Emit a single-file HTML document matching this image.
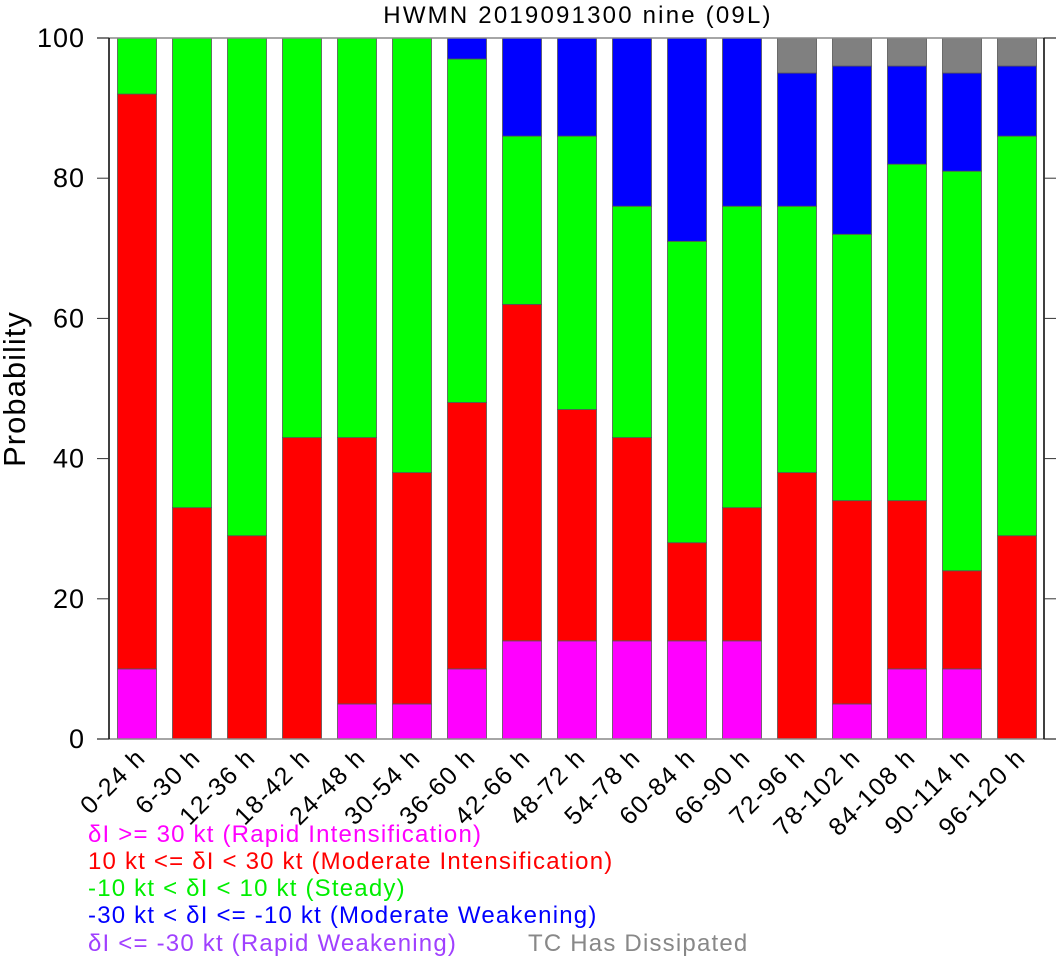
<!DOCTYPE html>
<html><head><meta charset="utf-8"><style>
body{margin:0;background:#fff;}
svg text{font-family:"Liberation Sans",sans-serif;}
</style></head><body>
<svg id="chart" width="1057" height="960" xmlns="http://www.w3.org/2000/svg">
<text x="578" y="23" font-size="24" letter-spacing="2.2" text-anchor="middle">HWMN 2019091300 nine (09L)</text>
<text transform="translate(25,389) rotate(-90)" font-size="31" letter-spacing="1" text-anchor="middle">Probability</text>
<g id="bars"></g>
<g id="axes"></g>
<g font-size="24" letter-spacing="1.2">
<text x="88" y="842" fill="#ff00ff">δI &gt;= 30 kt (Rapid Intensification)</text>
<text x="88" y="869" fill="#ff0000">10 kt &lt;= δI &lt; 30 kt (Moderate Intensification)</text>
<text x="88" y="896" fill="#00ee00">-10 kt &lt; δI &lt; 10 kt (Steady)</text>
<text x="88" y="923" fill="#0000ff">-30 kt &lt; δI &lt;= -10 kt (Moderate Weakening)</text>
<text x="88" y="951" fill="#a040ff">δI &lt;= -30 kt (Rapid Weakening)</text>
<text x="528" y="951" fill="#888">TC Has Dissipated</text>
</g>
</svg>
<script>
const categories=["0-24 h","6-30 h","12-36 h","18-42 h","24-48 h","30-54 h","36-60 h","42-66 h","48-72 h","54-78 h","60-84 h","66-90 h","72-96 h","78-102 h","84-108 h","90-114 h","96-120 h"];
const rapidInt=[10,0,0,0,5,5,10,14,14,14,14,14,0,5,10,10,0];
const moderateInt=[82,33,29,43,38,33,38,48,33,29,14,19,38,29,24,14,29];
const steady=[8,67,71,57,57,62,49,24,39,33,43,43,38,38,48,57,57];
const moderateWeak=[0,0,0,0,0,0,3,14,14,24,29,24,19,24,14,14,10];
const rapidWeak=[0,0,0,0,0,0,0,0,0,0,0,0,0,0,0,0,0];
const dissipated=[0,0,0,0,0,0,0,0,0,0,0,0,5,4,4,5,4];
const yTicks=[0,20,40,60,80,100];
const NS="http://www.w3.org/2000/svg";
const x0=109,x1=1044,y0=739,y1=38;
const firstC=137,step=55,bw=39;
const xC=i=>firstC+i*step;
const yS=v=>y0-(v/100)*(y0-y1);
const series=[[rapidInt,"#ff00ff","rapid-int"],[moderateInt,"#ff0000","moderate-int"],[steady,"#00ff00","steady"],[moderateWeak,"#0000ff","moderate-weak"],[rapidWeak,"#a040ff","rapid-weak"],[dissipated,"#808080","dissipated"]];
const bars=document.getElementById('bars');
categories.forEach((c,i)=>{
  let cum=0;
  series.forEach(([arr,col,nm])=>{
    const v=arr[i];
    if(v>0){
      const r=document.createElementNS(NS,'rect');
      
      
      r.setAttribute('x',xC(i)-bw/2);r.setAttribute('width',bw);
      r.setAttribute('y',yS(cum+v));r.setAttribute('height',yS(cum)-yS(cum+v));
      r.setAttribute('fill',col);r.setAttribute('stroke','#555');r.setAttribute('stroke-width','0.8');
      bars.appendChild(r);
    }
    cum+=v;
  });
  const t=document.createElementNS(NS,'text');
  
  
  t.setAttribute('font-size','25');t.setAttribute('letter-spacing','1.5');t.setAttribute('text-anchor','end');
  t.setAttribute('transform','translate('+(xC(i)+10)+','+(y0+20)+') rotate(-45)');
  t.textContent=c;bars.appendChild(t);
});
const ax=document.getElementById('axes');
function line(a,b,c,d,col,w,nm){const l=document.createElementNS(NS,'line');


l.setAttribute('x1',a);l.setAttribute('y1',b);l.setAttribute('x2',c);l.setAttribute('y2',d);l.setAttribute('stroke',col);l.setAttribute('stroke-width',w);ax.appendChild(l);}
line(97,y1,1056,y1,'#888',1.5,'top-axis-line');
line(97,y0,1056,y0,'#888',1.5,'bottom-axis-line');
line(x0,y1,x0,y0,'#000',1.5,'left-axis-line');
line(x1,y1,x1,y0,'#000',1.5,'right-axis-line');
yTicks.forEach(v=>{
  line(97,yS(v),x0,yS(v),'#333',1,'y-tick-left');
  line(x1,yS(v),1056,yS(v),'#333',1,'y-tick-right');
  const t=document.createElementNS(NS,'text');
  
  
  t.setAttribute('x',85);t.setAttribute('y',yS(v)+9);t.setAttribute('font-size','27');t.setAttribute('letter-spacing','1');t.setAttribute('text-anchor','end');
  t.textContent=v;ax.appendChild(t);
});
</script>
</body></html>
